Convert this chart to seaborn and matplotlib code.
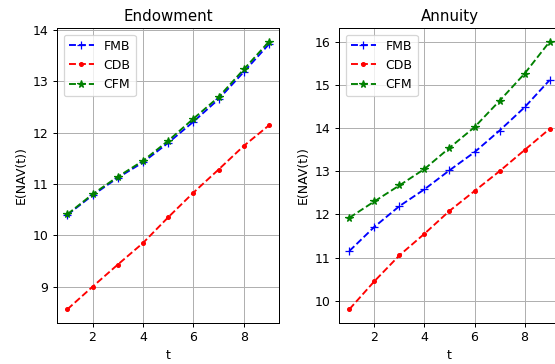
import matplotlib
matplotlib.use("Agg")
import matplotlib.pyplot as plt
import seaborn as sns
import pandas as pd

t = [1, 2, 3, 4, 5, 6, 7, 8, 9]

endow_fmb = [10.40, 10.78, 11.12, 11.42, 11.80, 12.21, 12.65, 13.18, 13.72]
endow_cdb = [8.56, 9.00, 9.43, 9.85, 10.35, 10.83, 11.28, 11.74, 12.14]
endow_cfm = [10.41, 10.80, 11.14, 11.45, 11.84, 12.27, 12.69, 13.23, 13.77]

ann_fmb = [11.15, 11.71, 12.19, 12.58, 13.02, 13.44, 13.94, 14.48, 15.11]
ann_cdb = [9.80, 10.45, 11.05, 11.55, 12.08, 12.54, 13.00, 13.49, 13.98]
ann_cfm = [11.92, 12.30, 12.67, 13.05, 13.54, 14.02, 14.63, 15.26, 16.00]

series_names = ["FMB", "CDB", "CFM"]
series_colors = ["b", "r", "g"]
series_markers = ["+", ".", "*"]
titles = ["Endowment", "Annuity"]

dpi = 90
fig = plt.figure(figsize=(555 / dpi, 364 / dpi), dpi=dpi)
ax1 = fig.add_axes([0.1032, 0.1135, 0.3995, 0.8088])
ax2 = fig.add_axes([0.6114, 0.1135, 0.397, 0.8088])

panels = [(ax1, [endow_fmb, endow_cdb, endow_cfm]),
          (ax2, [ann_fmb, ann_cdb, ann_cfm])]

for (ax, data), title in zip(panels, titles):
    for name, vals, c, m in zip(series_names, data, series_colors, series_markers):
        df = pd.DataFrame({"t": t, "v": vals})
        sns.lineplot(data=df, x="t", y="v", ax=ax, color=c, marker=m,
                     linestyle="--", label=name, markeredgecolor=c,
                     markeredgewidth=1.0, markersize=6, linewidth=1.5)
    ax.grid(True)
    ax.set_title(title)
    ax.set_xlabel("t")
    ax.set_ylabel("E(NAV(t))")
    ax.legend(loc="upper left")

fig.savefig("out.png", dpi=dpi)
